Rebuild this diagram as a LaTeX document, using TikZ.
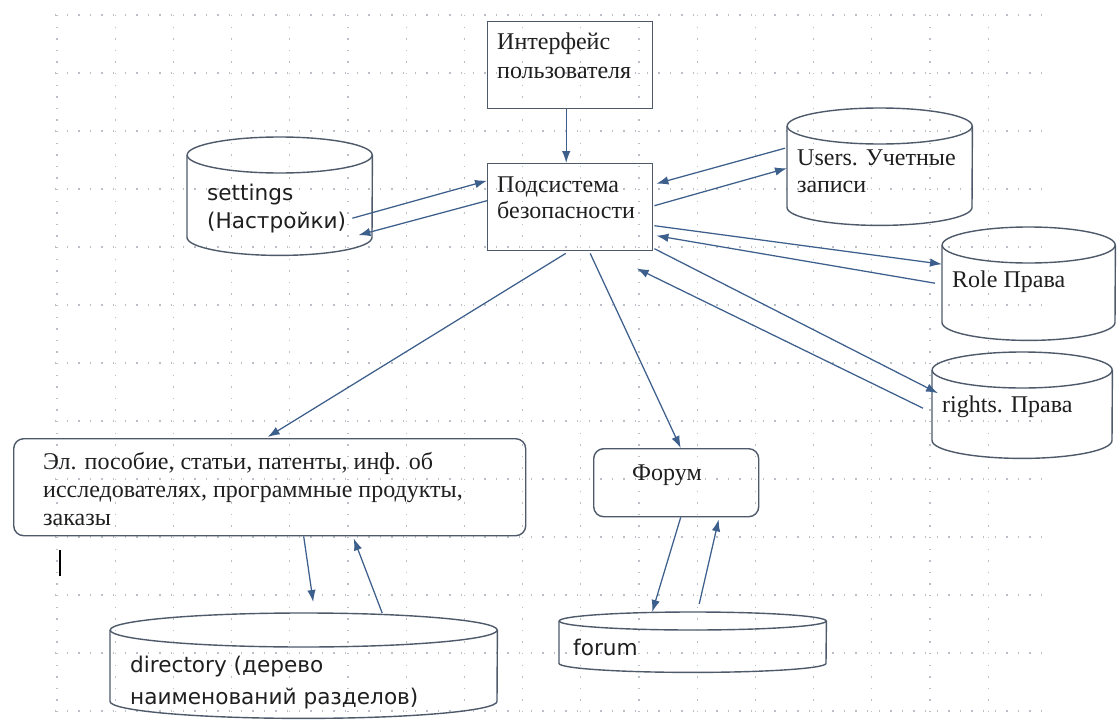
\documentclass[tikz,border=0pt]{standalone}
\usepackage{fontspec}
\setmainfont{Liberation Serif}
\newfontfamily\dvsans{DejaVu Sans}
\usetikzlibrary{arrows.meta}
\definecolor{wirec}{HTML}{3D5F8C}
\definecolor{edgec}{HTML}{4E5A6A}
\definecolor{gridc}{HTML}{B9BFC7}

\tikzset{
  box/.style={draw=edgec, line width=1.4pt, inner sep=0pt, anchor=north west},
  rbox/.style={box, rounded corners=10pt},
  cylline/.style={draw=edgec, line width=1.4pt},
  lbl/.style={inner sep=0pt, anchor=north west, align=left, text=black!88,
              execute at begin node=\strut},
  serif/.style={font=\fontsize{24}{#1}\selectfont},
  serif/.default=28.5,
  sans/.style={font=\dvsans\fontsize{21.6}{#1}\selectfont},
  sans/.default=28,
  wire/.style={draw=wirec, line width=1.25pt, -{Latex[length=12pt,width=8.5pt]}},
  gridline/.style={draw=gridc, line width=1.1pt, dash pattern=on 1.4pt off 10.2pt},
}

% database cylinder: name, left, top, width, height, radius of the end ellipse
\newcommand\dbcyl[6]{%
  \node[inner sep=0pt, minimum width=#4pt, minimum height=#5pt, anchor=north west] (#1) at (#2,-#3) {};
  \draw[cylline] ([yshift=-#6pt]#1.north west) -- ([yshift=#6pt]#1.south west)
     arc[start angle=180, end angle=360, x radius=#4pt/2, y radius=#6pt]
     -- ([yshift=-#6pt]#1.north east);
  \draw[cylline] ([yshift=-#6pt]#1.north) ellipse[x radius=#4pt/2, y radius=#6pt];
}

\begin{document}
\begin{tikzpicture}[x=1pt, y=1pt]
  \fill[white] (0,0) rectangle (1117,-720);
  \useasboundingbox (0,0) rectangle (1117,-720);

  % dotted background grid
  \foreach \k in {0,...,16}
    \draw[gridline] ({57+58.2*\k},-15) -- ({57+58.2*\k},-712);
  \foreach \k in {0,...,12}
    \draw[gridline] (55,{-15-58*\k}) -- (1043,{-15-58*\k});

  % process boxes
  \node[box, minimum width=165pt, minimum height=87pt] (iface) at (487,-21) {};
  \node[box, minimum width=165pt, minimum height=87pt] (sec) at (487,-163) {};
  \node[rbox, minimum width=512pt, minimum height=97pt] (docs) at (13,-438) {};
  \node[rbox, minimum width=165pt, minimum height=68pt] (forum) at (593,-448) {};

  % data stores
  \dbcyl{settings}{187}{137}{185}{118}{18}
  \dbcyl{users}{787}{108}{185}{117}{18}
  \dbcyl{role}{942}{227}{173}{113}{18}
  \dbcyl{rights}{932}{352}{180}{106}{18}
  \dbcyl{dir}{110}{613}{387}{105}{17}
  \dbcyl{forumdb}{559}{612}{267}{60}{9}

  % labels
  \node[lbl, serif] (ifaceT) at (497,-33) {Интерфейс\\пользователя};
  \node[lbl, serif=26] (secT) at (497,-177) {Подсистема\\безопасности};
  \node[lbl, serif=28] (docsT) at (43,-452) {Эл. пособие, статьи, патенты, инф. об\\исследователях, программные продукты,\\заказы};
  \node[lbl, serif, anchor=base] (forumT) at (667,-480) {Форум};
  \node[lbl, serif=27] (usersT) at (797,-150) {Users. Учетные\\записи};
  \node[lbl, serif, anchor=base west] (roleT) at (952,-287) {Role Права};
  \node[lbl, serif, anchor=base west] (rightsT) at (942,-412) {rights. Права};
  \node[lbl, sans] (settingsT) at (207,-183.4) {settings\\(Настройки)};
  \node[lbl, sans=32] (dirT) at (130,-655.4) {directory (дерево\\наименований разделов)};
  \node[lbl, sans, anchor=base west] (forumdbT) at (573,-655) {forum};

  % text cursor mark
  \draw[black, line width=1.4pt] (60,-550) -- (60,-576);

  % connectors
  \draw[wire] ([xshift=-4pt]iface.south) -- ([xshift=-4pt]sec.north);
  \draw[wire] ([xshift=-20pt, yshift=-22pt]settings.east) -- ([yshift=26.5pt]sec.west);
  \draw[wire] ([yshift=6.5pt]sec.west) -- ([xshift=-14pt, yshift=-39pt]settings.east);
  \draw[wire] ([xshift=-2pt, yshift=18.5pt]users.west) -- ([xshift=3pt, yshift=23.5pt]sec.east);
  \draw[wire] ([xshift=1pt, yshift=1.5pt]sec.east) -- ([yshift=-1.5pt]users.west);
  \draw[wire] ([xshift=1pt, yshift=-18.5pt]sec.east) -- ([yshift=19.5pt]role.west);
  \draw[wire] ([xshift=-7pt, yshift=0.5pt]role.west) -- ([xshift=3pt, yshift=-28.5pt]sec.east);
  \draw[wire] ([xshift=1pt, yshift=-41.5pt]sec.east) -- ([xshift=6pt, yshift=12pt]rights.west);
  \draw[wire] ([xshift=-9pt, yshift=-3pt]rights.west) -- ([xshift=66.5pt, yshift=-17pt]sec.south);
  \draw[wire] ([xshift=-4.5pt, yshift=-2pt]sec.south) -- ([xshift=-2pt, yshift=1pt]docs.north);
  \draw[wire] ([xshift=20pt, yshift=-2pt]sec.south) -- ([xshift=4.5pt]forum.north);
  \draw[wire] ([xshift=34pt]docs.south) -- ([xshift=9.5pt, yshift=11pt]dir.north);
  \draw[wire] ([xshift=78.5pt]dir.north) -- ([xshift=84pt, yshift=-2pt]docs.south);
  \draw[wire] ([xshift=4.5pt]forum.south) -- ([xshift=-40.5pt]forumdb.north);
  \draw[wire] ([xshift=6.5pt, yshift=8pt]forumdb.north) -- ([xshift=42.5pt, yshift=-2pt]forum.south);
\end{tikzpicture}
\end{document}
